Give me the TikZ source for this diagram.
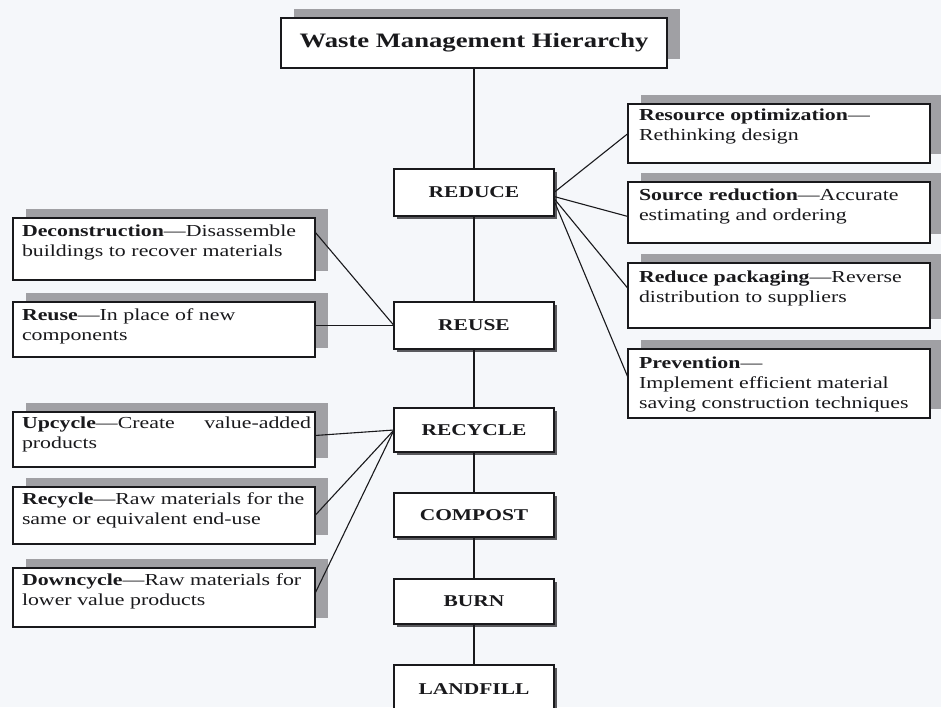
\documentclass[tikz,border=0pt]{standalone}
\usepackage{fontspec}
\setmainfont{Liberation Serif}[FakeStretch=1.3]
\usetikzlibrary{shadows}
\definecolor{bg}{RGB}{245,247,250}
\definecolor{shd}{RGB}{160,160,164}
\definecolor{shdk}{RGB}{90,90,94}
\definecolor{ink}{RGB}{25,25,28}
\begin{document}
\begin{tikzpicture}[x=1pt,y=-1pt,
  every node/.style={inner sep=0pt,outer sep=0pt},
  lvl/.style={draw=ink,line width=1.3pt,fill=white,minimum width=160pt,minimum height=46pt,
    text=ink,font=\fontsize{16.5}{18}\selectfont\bfseries,
    drop shadow={shadow xshift=2.5pt,shadow yshift=-2.5pt,fill=shdk,opacity=1}},
  card/.style={draw=ink,line width=1.2pt,fill=white,anchor=north west,minimum width=302pt,
    drop shadow={shadow xshift=13pt,shadow yshift=9pt,fill=shd,opacity=1}},
  cardtext/.style={anchor=north west,align=left,text width=330pt,text=ink,
    font=\fontsize{16.8}{20}\selectfont},
  link/.style={draw=ink,line width=1.1pt}]
\fill[bg] (0,0) rectangle (941,707);
\useasboundingbox (0,0) rectangle (941,707);

% title
\node[card,anchor=center,minimum width=386pt,minimum height=50pt,
  text=ink,font=\fontsize{20.5}{22}\selectfont\bfseries] (title) at (474,43) {Waste Management Hierarchy};

% hierarchy levels
\node[lvl,minimum height=47pt] (reduce) at (474,192.5) {REDUCE};
\node[lvl,minimum height=47pt] (reuse) at (474,325.5) {REUSE};
\node[lvl,minimum height=44pt] (recycle) at (474,430) {RECYCLE};
\node[lvl,minimum height=44pt] (compost) at (474,515) {COMPOST};
\node[lvl,minimum height=45pt] (burn) at (474,601.5) {BURN};
\node[lvl,minimum height=48pt] (landfill) at (474,689) {LANDFILL};

% left cards
\node[card,minimum height=62pt] (dec) at (13,218) {};
\node[cardtext] (dect) at ([xshift=9pt,yshift=-7pt]dec.north west) {\textbf{Deconstruction}---Disassemble\\buildings to recover materials};
\node[card,minimum height=55pt] (reu) at (13,302) {};
\node[cardtext] (reut) at ([xshift=9pt,yshift=-7pt]reu.north west) {\textbf{Reuse}---In place of new\\components};
\node[card,minimum height=55pt] (upc) at (13,412) {};
\node[cardtext] (upct) at ([xshift=9pt,yshift=-5pt]upc.north west) {\makebox[289pt][l]{\textbf{Upcycle}---Create\hfill value-added}\\products};
\node[card,minimum height=57pt] (rcy) at (13,487) {};
\node[cardtext] (rcyt) at ([xshift=9pt,yshift=-6pt]rcy.north west) {\textbf{Recycle}---Raw materials for the\\same or equivalent end-use};
\node[card,minimum height=59pt] (dwn) at (13,568) {};
\node[cardtext] (dwnt) at ([xshift=9pt,yshift=-6pt]dwn.north west) {\textbf{Downcycle}---Raw materials for\\lower value products};

% right cards
\node[card,minimum height=59pt] (ro) at (628,104) {};
\node[cardtext] (rot) at ([xshift=11pt,yshift=-5pt]ro.north west) {\textbf{Resource optimization}---\\Rethinking design};
\node[card,minimum height=61pt] (sr) at (628,182) {};
\node[cardtext] (srt) at ([xshift=11pt,yshift=-7pt]sr.north west) {\textbf{Source reduction}---Accurate\\estimating and ordering};
\node[card,minimum height=65pt] (rp) at (628,263) {};
\node[cardtext] (rpt) at ([xshift=11pt,yshift=-8pt]rp.north west) {\textbf{Reduce packaging}---Reverse\\distribution to suppliers};
\node[card,minimum height=69pt] (pv) at (628,349) {};
\node[cardtext] (pvt) at ([xshift=11pt,yshift=-8pt]pv.north west) {\textbf{Prevention}---\\Implement efficient material\\saving construction techniques};

% connectors
\draw[link] (title) -- (reduce) -- (reuse) -- (recycle) -- (compost) -- (burn) -- (landfill);
\draw[link] (reduce.east) -- (ro.west);
\draw[link] ([yshift=-4pt]reduce.east) -- ([yshift=-4pt]sr.west);
\draw[link] ([yshift=-6pt]reduce.east) -- ([yshift=7pt]rp.west);
\draw[link] ([yshift=-8pt]reduce.east) -- ([yshift=6pt]pv.west);
\draw[link] ([yshift=17pt]dec.east) -- (reuse.west);
\draw[link] (reuse.west) -- (reuse.west -| reu.east);
\draw[link] ([yshift=4pt]upc.east) -- (recycle.west);
\draw[link] (rcy.east) -- (recycle.west);
\draw[link] ([yshift=4pt]dwn.east) -- (recycle.west);
\end{tikzpicture}
\end{document}
